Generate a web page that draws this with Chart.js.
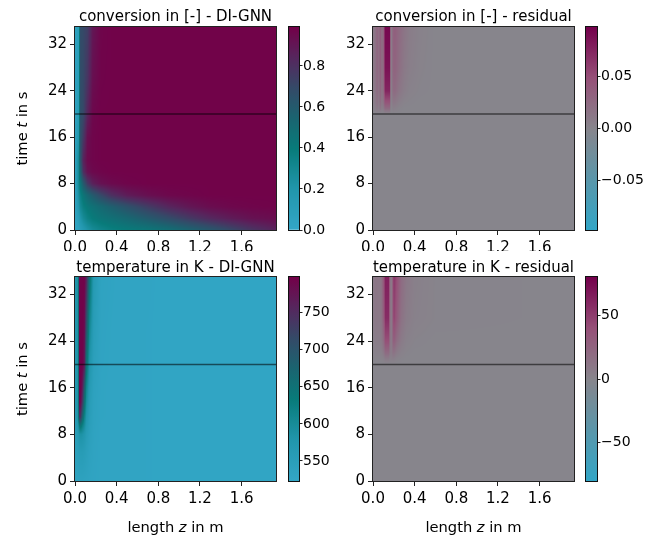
<!DOCTYPE html>
<html><head><meta charset="utf-8">
<script src="https://cdn.jsdelivr.net/npm/chart.js@4"></script>
<style>
html,body{margin:0;padding:0;background:#fff;}
#wrap{position:relative;width:662px;height:542px;overflow:hidden;background:#fff;}
canvas{position:absolute;}
</style></head><body><div id="wrap"></div>
<script>
// ---------------- data ----------------
const xTicks = [0, 0.4, 0.8, 1.2, 1.6];
const yTicks = [0, 8, 16, 24, 32];
const zMax = 1.93, tMax = 35;
const cutTime = 20;

const panelTitles = ['conversion in [-] - DI-GNN', 'conversion in [-] - residual',
                     'temperature in K - DI-GNN', 'temperature in K - residual'];
const yTitleParts = [['time ', 0], ['t', 1], [' in s', 0]];
const xTitleParts = [['length ', 0], ['z', 1], [' in m', 0]];

// conversion (DI-GNN)
const convZ = [0, 0.035, 0.05, 0.08, 0.12, 0.17, 0.25, 0.35, 0.5, 0.7, 0.9, 1.1, 1.3, 1.5, 1.7, 1.93];
const convT = [0, 2, 4, 6, 8, 10, 12, 16, 20, 26, 35];
const convVals = [
  [0.02, 0.06, 0.10, 0.16, 0.22, 0.28, 0.33, 0.37, 0.40, 0.43, 0.48, 0.55, 0.62, 0.70, 0.78, 0.85],
  [0.03, 0.12, 0.20, 0.28, 0.35, 0.40, 0.44, 0.47, 0.52, 0.60, 0.68, 0.76, 0.83, 0.88, 0.92, 0.94],
  [0.04, 0.20, 0.29, 0.37, 0.42, 0.46, 0.51, 0.57, 0.65, 0.75, 0.84, 0.90, 0.94, 0.96, 0.97, 0.975],
  [0.04, 0.25, 0.35, 0.44, 0.52, 0.60, 0.70, 0.80, 0.88, 0.93, 0.96, 0.97, 0.98, 0.98, 0.98, 0.98],
  [0.04, 0.30, 0.43, 0.60, 0.76, 0.86, 0.92, 0.95, 0.97, 0.98, 0.98, 0.98, 0.98, 0.98, 0.98, 0.98],
  [0.04, 0.30, 0.55, 0.80, 0.92, 0.955, 0.97, 0.98, 0.98, 0.98, 0.98, 0.98, 0.98, 0.98, 0.98, 0.98],
  [0.04, 0.30, 0.62, 0.85, 0.95, 0.97, 0.98, 0.98, 0.98, 0.98, 0.98, 0.98, 0.98, 0.98, 0.98, 0.98],
  [0.04, 0.20, 0.65, 0.76, 0.93, 0.97, 0.98, 0.98, 0.98, 0.98, 0.98, 0.98, 0.98, 0.98, 0.98, 0.98],
  [0.04, 0.15, 0.66, 0.70, 0.85, 0.96, 0.98, 0.98, 0.98, 0.98, 0.98, 0.98, 0.98, 0.98, 0.98, 0.98],
  [0.04, 0.12, 0.67, 0.70, 0.78, 0.93, 0.975, 0.98, 0.98, 0.98, 0.98, 0.98, 0.98, 0.98, 0.98, 0.98],
  [0.04, 0.10, 0.68, 0.70, 0.74, 0.90, 0.97, 0.98, 0.98, 0.98, 0.98, 0.98, 0.98, 0.98, 0.98, 0.98]
];
const convRange = [0, 0.99];
const convCbTicks = [0, 0.2, 0.4, 0.6, 0.8];

// conversion residual
const convResZ = [0, 0.02, 0.04, 0.055, 0.07, 0.085, 0.1, 0.11, 0.12, 0.16, 0.17, 0.18, 0.19, 0.21, 0.25, 0.3, 0.35, 0.45, 0.6, 1.93];
const convResT = [0, 20, 21, 22, 24, 28, 35];
const convResVals = [
  [0, 0, 0, 0, 0, 0, 0, 0, 0, 0, 0, 0, 0, 0, 0, 0, 0, 0, 0, 0],
  [0, 0, 0, 0, 0, 0, 0, 0, 0, 0, 0, 0, 0, 0, 0, 0, 0, 0, 0, 0],
  [0.003, 0.005, 0.012, 0.006, 0.015, 0.006, 0.01, 0.02, 0.025, 0.025, 0.004, 0, 0.006, 0.005, 0.002, 0, 0, 0, 0, 0],
  [0.005, 0.009, 0.018, 0.01, 0.022, 0.01, 0.017, 0.035, 0.045, 0.045, 0.008, 0.002, 0.012, 0.012, 0.006, 0.002, 0.001, 0, 0, 0],
  [0.008, 0.012, 0.024, 0.015, 0.028, 0.015, 0.024, 0.055, 0.075, 0.075, 0.014, 0.004, 0.022, 0.024, 0.014, 0.007, 0.003, 0.001, 0, 0],
  [0.01, 0.015, 0.028, 0.02, 0.033, 0.02, 0.027, 0.063, 0.086, 0.086, 0.018, 0.005, 0.028, 0.031, 0.021, 0.011, 0.006, 0.002, 0, 0],
  [0.01, 0.015, 0.03, 0.02, 0.035, 0.02, 0.03, 0.068, 0.092, 0.092, 0.02, 0.005, 0.03, 0.035, 0.025, 0.015, 0.008, 0.003, 0, 0]
];
const convResRange = [-0.097, 0.097];
const convResCbTicks = [-0.05, 0, 0.05];

// temperature (DI-GNN)
const tempZ = [0, 0.03, 0.04, 0.055, 0.07, 0.09, 0.11, 0.14, 0.18, 0.25, 0.4, 0.8, 1.93];
const tempT = [0, 5, 8, 9.5, 11, 13.5, 16, 20, 26, 35];
const tempVals = [
  [535, 537, 538, 538, 538, 537, 536, 534, 532, 530, 529, 528, 528],
  [545, 552, 556, 558, 558, 554, 548, 540, 534, 530, 529, 528, 528],
  [550, 566, 580, 588, 584, 574, 558, 545, 535, 530, 529, 528, 528],
  [555, 580, 630, 650, 625, 598, 568, 548, 536, 530, 529, 528, 528],
  [560, 588, 745, 740, 680, 620, 578, 552, 537, 531, 529, 528, 528],
  [565, 590, 790, 785, 740, 660, 595, 556, 538, 531, 529, 528, 528],
  [565, 590, 795, 795, 770, 690, 612, 562, 540, 531, 529, 528, 528],
  [570, 590, 795, 795, 795, 770, 650, 578, 545, 532, 529, 528, 528],
  [570, 590, 795, 795, 795, 785, 700, 605, 552, 533, 529, 528, 528],
  [575, 595, 795, 795, 795, 795, 760, 650, 565, 535, 530, 528, 528]
];
const tempRange = [523, 798];
const tempCbTicks = [550, 600, 650, 700, 750];

// temperature residual
const tempResZ = [0, 0.03, 0.06, 0.08, 0.1, 0.12, 0.15, 0.165, 0.175, 0.185, 0.2, 0.23, 0.27, 0.32, 0.4, 0.6, 1.93];
const tempResT = [0, 20, 21, 22, 24, 28, 35];
const tempResVals = [
  [0, 0, 0, 0, 0, 0, 0, 0, 0, 0, 0, 0, 0, 0, 0, 0, 0],
  [0, 0, 0, 0, 0, 0, 0, 0, 0, 0, 0, 0, 0, 0, 0, 0, 0],
  [1, 1, 1, 2, 3, 8, 8, 4, 4, 5, 5, 2, 1, 0, 0, 0, 0],
  [2, 3, 3, 4, 9, 20, 20, 9, 6, 11, 14, 7, 3, 1, 0, 0, 0],
  [4, 6, 6, 8, 17, 40, 40, 13, 6, 17, 30, 17, 8, 3, 1, 0, 0],
  [7, 10, 9, 12, 28, 58, 58, 16, 5, 20, 48, 32, 15, 7, 3, 1, 0],
  [8, 12, 10, 14, 33, 64, 64, 16, 5, 22, 54, 40, 20, 10, 4, 1, 0]
];
const tempResRange = [-80, 80];
const tempResCbTicks = [-50, 0, 50];

// ---------------- styling ----------------
const FONT = "'DejaVu Sans', sans-serif";
const FS_TICK = 15, FS_CB = 14, FS_TITLE = 15, FS_LABEL = 14.7;
Chart.defaults.font.family = FONT;
Chart.defaults.font.size = FS_TICK;
Chart.defaults.color = '#000';

const seqStops = [[0, [51,166,198]], [0.2, [33,150,172]], [0.4, [8,123,122]], [0.55, [26,100,112]],
                  [0.7, [52,74,104]], [0.85, [86,38,93]], [1, [115,0,72]]];
const divStops = [[0, [50,165,198]], [0.25, [90,150,170]], [0.5, [135,133,140]], [0.75, [150,80,120]], [1, [115,0,75]]];
function makeCmap(stops) {
  return f => {
    if (!(f > 0)) f = 0; if (f > 1) f = 1;
    for (let k = 1; k < stops.length; k++) {
      if (f <= stops[k][0]) {
        const [f0, c0] = stops[k-1], [f1, c1] = stops[k];
        const u = (f - f0) / (f1 - f0);
        return [c0[0] + (c1[0]-c0[0])*u, c0[1] + (c1[1]-c0[1])*u, c0[2] + (c1[2]-c0[2])*u];
      }
    }
    return stops[stops.length-1][1];
  };
}
const seqCmap = makeCmap(seqStops), divCmap = makeCmap(divStops);

const wrap = document.getElementById('wrap');
function makeCanvas(l, t, w, h) {
  const c = document.createElement('canvas');
  c.width = w; c.height = h;
  c.style.left = l + 'px'; c.style.top = t + 'px';
  c.style.width = w + 'px'; c.style.height = h + 'px';
  wrap.appendChild(c);
  return c;
}
function drawMixed(ctx, parts, cx, cy, rot) {
  ctx.save();
  ctx.translate(cx, cy);
  if (rot) ctx.rotate(-Math.PI / 2);
  ctx.textBaseline = 'middle'; ctx.textAlign = 'left'; ctx.fillStyle = '#000';
  let total = 0;
  for (const [s, it] of parts) { ctx.font = (it ? 'italic ' : '') + FS_LABEL + 'px ' + FONT; total += ctx.measureText(s).width; }
  let x = -total / 2;
  for (const [s, it] of parts) {
    ctx.font = (it ? 'italic ' : '') + FS_LABEL + 'px ' + FONT;
    ctx.fillText(s, x, 0);
    x += ctx.measureText(s).width;
  }
  ctx.restore();
}

function heatPlugin(p) {
  return {
    id: 'heat_' + p.key,
    beforeDatasetsDraw(chart) {
      const {ctx, chartArea: a, scales: {x, y}} = chart;
      const L = Math.round(a.left), T = Math.round(a.top);
      const W = Math.round(a.right) - L, H = Math.round(a.bottom) - T;
      const off = document.createElement('canvas'); off.width = W; off.height = H;
      const octx = off.getContext('2d');
      const img = octx.createImageData(W, H), d = img.data;
      const zs = p.z, ts = p.t, v = p.v, span = p.vmax - p.vmin;
      for (let j = 0; j < ts.length - 1; j++) {
        const Y0 = y.getPixelForValue(ts[j]), Y1 = y.getPixelForValue(ts[j+1]);
        if (Y0 - Y1 <= 0) continue;
        const pyS = Math.max(T, Math.ceil(Y1 - 0.5)), pyE = Math.min(T + H, Math.ceil(Y0 - 0.5));
        for (let i = 0; i < zs.length - 1; i++) {
          const X0 = x.getPixelForValue(zs[i]), X1 = x.getPixelForValue(zs[i+1]);
          if (X1 - X0 <= 0) continue;
          const pxS = Math.max(L, Math.ceil(X0 - 0.5)), pxE = Math.min(L + W, Math.ceil(X1 - 0.5));
          const v00 = v[j][i], v01 = v[j][i+1], v10 = v[j+1][i], v11 = v[j+1][i+1];
          for (let py = pyS; py < pyE; py++) {
            const fy = (Y0 - (py + 0.5)) / (Y0 - Y1);
            for (let px = pxS; px < pxE; px++) {
              const fx = (px + 0.5 - X0) / (X1 - X0);
              const val = (v00*(1-fx) + v01*fx)*(1-fy) + (v10*(1-fx) + v11*fx)*fy;
              const c = p.cmap((val - p.vmin) / span);
              const k = ((py - T) * W + (px - L)) * 4;
              d[k] = c[0]; d[k+1] = c[1]; d[k+2] = c[2]; d[k+3] = 255;
            }
          }
        }
      }
      octx.putImageData(img, 0, 0);
      ctx.drawImage(off, L, T);
    },
    afterDatasetsDraw(chart) {
      const {ctx, chartArea: a} = chart;
      ctx.save();
      ctx.strokeStyle = '#222'; ctx.lineWidth = 1;
      ctx.strokeRect(Math.round(a.left) - 0.5, Math.round(a.top) - 0.5,
                     Math.round(a.right) - Math.round(a.left) + 1, Math.round(a.bottom) - Math.round(a.top) + 1);
      ctx.restore();
    },
    afterDraw(chart) {
      const {ctx, chartArea: a} = chart;
      if (p.yTitle) drawMixed(ctx, yTitleParts, p.yTitleX, (a.top + a.bottom) / 2, true);
      if (p.xTitle) drawMixed(ctx, xTitleParts, (a.left + a.right) / 2, p.xTitleY, false);
    }
  };
}

function mainChart(p) {
  const cv = makeCanvas(p.left, p.top, p.w, p.h);
  return new Chart(cv, {
    type: 'scatter',
    data: { datasets: [{
      data: [{x: 0, y: cutTime}, {x: zMax, y: cutTime}],
      showLine: true, borderColor: 'rgba(0,0,0,0.55)', borderWidth: 1.5, pointRadius: 0
    }] },
    options: {
      responsive: false, animation: false, events: [],
      layout: { padding: { left: 0, right: 2, top: 0, bottom: 0 } },
      plugins: {
        legend: { display: false }, tooltip: { enabled: false },
        title: { display: true, fullSize: false, text: p.title, color: '#000',
                 font: { family: FONT, size: FS_TITLE, weight: 'normal' },
                 padding: { top: p.tPadTop, bottom: p.tPadBottom } }
      },
      scales: {
        x: {
          type: 'linear', min: 0, max: zMax,
          afterBuildTicks: s => { s.ticks = xTicks.map(v => ({ value: v })); },
          afterFit: s => { s.height = p.xAxisH; },
          ticks: { callback: v => Number(v).toFixed(1), color: '#000', font: { family: FONT, size: FS_TICK },
                   padding: 4, maxRotation: 0, autoSkip: false },
          grid: { drawOnChartArea: false, drawTicks: true, tickLength: 5, color: '#222' },
          border: { display: false }
        },
        y: {
          type: 'linear', min: 0, max: tMax,
          afterBuildTicks: s => { s.ticks = yTicks.map(v => ({ value: v })); },
          afterFit: s => { s.width = p.yAxisW; },
          ticks: { callback: v => String(v), color: '#000', font: { family: FONT, size: FS_TICK }, padding: 3, autoSkip: false },
          grid: { drawOnChartArea: false, drawTicks: true, tickLength: 5, color: '#222' },
          border: { display: false }
        }
      }
    },
    plugins: [heatPlugin(p)]
  });
}

function colorbarChart(cb) {
  const cv = makeCanvas(cb.left, cb.top, cb.w, cb.h);
  return new Chart(cv, {
    type: 'bar',
    data: { labels: [''], datasets: [{
      data: [[cb.vmin, cb.vmax]], borderWidth: 0, barPercentage: 1, categoryPercentage: 1,
      backgroundColor: c => {
        const ch = c.chart, a = ch.chartArea;
        if (!a) return '#888';
        const g = ch.ctx.createLinearGradient(0, a.bottom, 0, a.top);
        for (let k = 0; k <= 40; k++) {
          const col = cb.cmap(k / 40);
          g.addColorStop(k / 40, 'rgb(' + col.map(Math.round).join(',') + ')');
        }
        return g;
      }
    }] },
    options: {
      responsive: false, animation: false, events: [],
      layout: { padding: { left: cb.padL, top: cb.padT, bottom: cb.padB, right: 0 } },
      plugins: { legend: { display: false }, tooltip: { enabled: false } },
      scales: {
        x: { display: false },
        y: {
          position: 'right', min: cb.vmin, max: cb.vmax,
          afterBuildTicks: s => { s.ticks = cb.ticks.map(v => ({ value: v })); },
          afterFit: s => { s.width = cb.axisW; },
          ticks: { callback: cb.fmt, color: '#000', font: { family: FONT, size: FS_CB }, padding: 0.5, autoSkip: false },
          grid: { drawOnChartArea: false, drawTicks: true, tickLength: 3.5, color: '#222' },
          border: { display: false }
        }
      }
    },
    plugins: [{
      id: 'outline',
      afterDatasetsDraw(chart) {
        const {ctx, chartArea: a} = chart;
        ctx.save(); ctx.strokeStyle = '#111'; ctx.lineWidth = 1;
        ctx.strokeRect(Math.round(a.left) - 0.5, Math.round(a.top) - 0.5,
                       Math.round(a.right) - Math.round(a.left) + 1, Math.round(a.bottom) - Math.round(a.top) + 1);
        ctx.restore();
      }
    }]
  });
}

const minus = s => s.replace('-', '\u2212');

// ---------------- panels ----------------
mainChart({ key: 'a', left: 0, top: 0, w: 278, h: 251, title: panelTitles[0], tPadTop: 8, tPadBottom: 1,
  xAxisH: 21, yAxisW: 75, z: convZ, t: convT, v: convVals, vmin: convRange[0], vmax: convRange[1], cmap: seqCmap,
  yTitle: true, yTitleX: 23 });
mainChart({ key: 'b', left: 330, top: 0, w: 246, h: 251, title: panelTitles[1], tPadTop: 8, tPadBottom: 1,
  xAxisH: 21, yAxisW: 43, z: convResZ, t: convResT, v: convResVals, vmin: convResRange[0], vmax: convResRange[1], cmap: divCmap });
mainChart({ key: 'c', left: 0, top: 251, w: 278, h: 291, title: panelTitles[2], tPadTop: 8, tPadBottom: 0,
  xAxisH: 61, yAxisW: 75, z: tempZ, t: tempT, v: tempVals, vmin: tempRange[0], vmax: tempRange[1], cmap: seqCmap,
  yTitle: true, yTitleX: 23, xTitle: true, xTitleY: 277.5 });
mainChart({ key: 'd', left: 330, top: 251, w: 246, h: 291, title: panelTitles[3], tPadTop: 8, tPadBottom: 0,
  xAxisH: 61, yAxisW: 43, z: tempResZ, t: tempResT, v: tempResVals, vmin: tempResRange[0], vmax: tempResRange[1], cmap: divCmap,
  xTitle: true, xTitleY: 277.5 });

colorbarChart({ left: 279, top: 0, w: 60, h: 251, padL: 10, padT: 27, padB: 21, axisW: 40,
  vmin: convRange[0], vmax: convRange[1], ticks: convCbTicks, cmap: seqCmap, fmt: v => Number(v).toFixed(1) });
colorbarChart({ left: 576, top: 0, w: 86, h: 251, padL: 10, padT: 27, padB: 21, axisW: 65,
  vmin: convResRange[0], vmax: convResRange[1], ticks: convResCbTicks, cmap: divCmap, fmt: v => minus(Number(v).toFixed(2)) });
colorbarChart({ left: 279, top: 251, w: 60, h: 291, padL: 10, padT: 26, padB: 61, axisW: 40,
  vmin: tempRange[0], vmax: tempRange[1], ticks: tempCbTicks, cmap: seqCmap, fmt: v => String(v) });
colorbarChart({ left: 576, top: 251, w: 86, h: 291, padL: 10, padT: 26, padB: 61, axisW: 65,
  vmin: tempResRange[0], vmax: tempResRange[1], ticks: tempResCbTicks, cmap: divCmap, fmt: v => minus(String(v)) });
</script>
</body></html>
